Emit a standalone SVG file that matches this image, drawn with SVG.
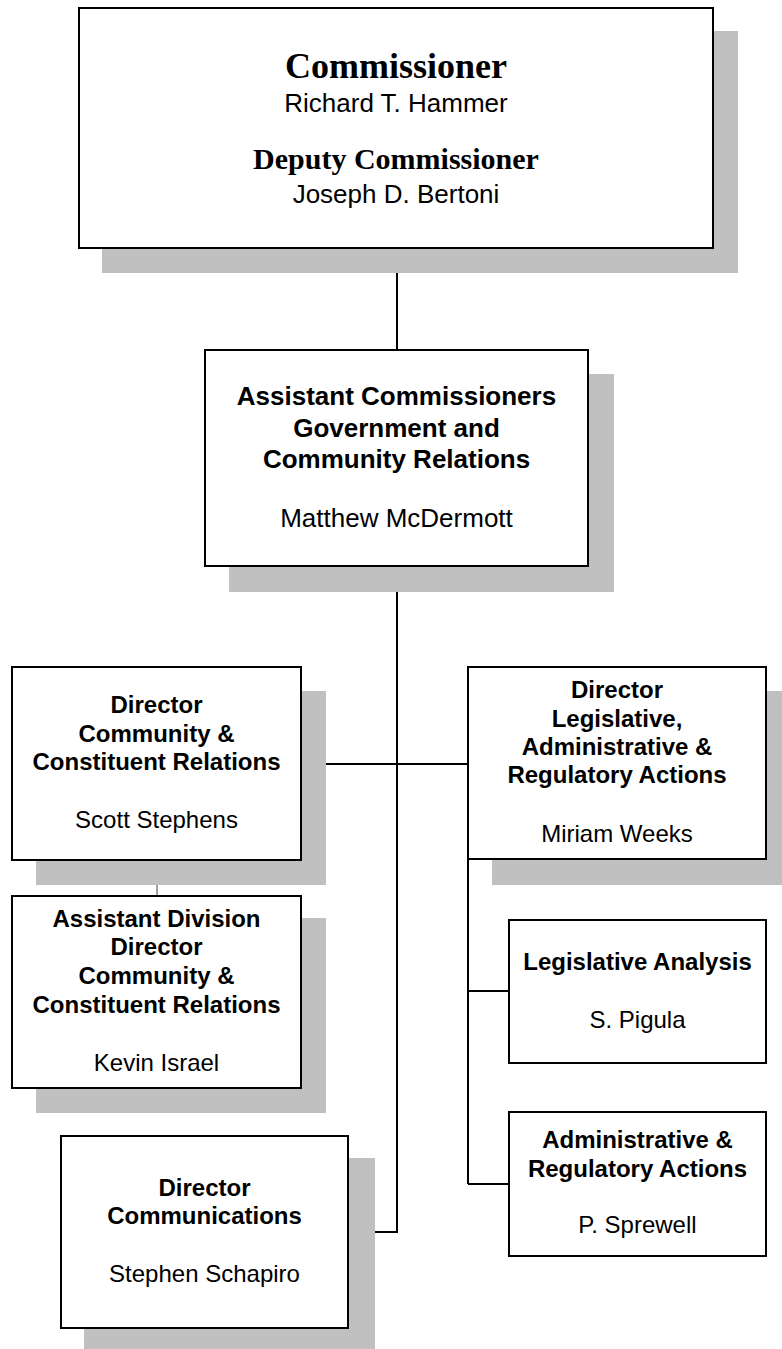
<svg xmlns="http://www.w3.org/2000/svg" width="782" height="1349" viewBox="0 0 782 1349">
<style>
.bg{fill:#ffffff}
.sh{fill:#c0c0c0}
.bx{fill:#ffffff;stroke:#000000;stroke-width:2}
.ln{fill:none;stroke:#000000;stroke-width:2}
.thin{fill:none;stroke:#444444;stroke-width:1}
.ts{font-family:"Liberation Serif","Times New Roman",serif;font-weight:bold;text-anchor:middle;fill:#000}
.b{font-family:"Liberation Sans",Arial,sans-serif;font-weight:bold;font-size:24px;text-anchor:middle;fill:#000}
.r{font-family:"Liberation Sans",Arial,sans-serif;font-size:24px;text-anchor:middle;fill:#000}
.big{font-size:26px}
</style>
<rect class="bg" x="0" y="0" width="782" height="1349"/>
<g id="connectors">
<line class="ln" x1="397" y1="248" x2="397" y2="350"/>
<polyline class="ln" points="397,566 397,1232 348,1232"/>
<line class="ln" x1="301" y1="764" x2="468" y2="764"/>
<line class="ln" x1="468" y1="764" x2="468" y2="1184"/>
<line class="ln" x1="468" y1="991" x2="509" y2="991"/>
<line class="ln" x1="468" y1="1184" x2="509" y2="1184"/>
<line class="thin" x1="157" y1="860" x2="157" y2="896"/>
</g>
<g id="commissioner">
<rect class="sh" x="102" y="31" width="636" height="242"/>
<rect class="bx" x="79" y="8" width="634" height="240"/>
<text class="ts" x="396" y="78" font-size="36">Commissioner</text>
<text class="r big" x="396" y="112">Richard T. Hammer</text>
<text class="ts" x="396" y="169" font-size="30">Deputy Commissioner</text>
<text class="r big" x="396" y="203">Joseph D. Bertoni</text>
</g>
<g id="assistant-commissioners">
<rect class="sh" x="229" y="374" width="385" height="218"/>
<rect class="bx" x="205" y="350" width="383" height="216"/>
<text class="b big" x="396.5" y="405">Assistant Commissioners</text>
<text class="b big" x="396.5" y="437">Government and</text>
<text class="b big" x="396.5" y="468">Community Relations</text>
<text class="r big" x="396.5" y="527">Matthew McDermott</text>
</g>
<g id="director-community">
<rect class="sh" x="36" y="691" width="290" height="194"/>
<rect class="bx" x="12" y="667" width="289" height="193"/>
<text class="b" x="156.5" y="713">Director</text>
<text class="b" x="156.5" y="742">Community &amp;</text>
<text class="b" x="156.5" y="770">Constituent Relations</text>
<text class="r" x="156.5" y="828">Scott Stephens</text>
</g>
<g id="director-legislative">
<rect class="sh" x="492" y="691" width="298" height="194"/>
<rect class="bx" x="468" y="667" width="298" height="192"/>
<text class="b" x="617" y="698">Director</text>
<text class="b" x="617" y="727">Legislative,</text>
<text class="b" x="617" y="755">Administrative &amp;</text>
<text class="b" x="617" y="783">Regulatory Actions</text>
<text class="r" x="617" y="842">Miriam Weeks</text>
</g>
<g id="assistant-division">
<rect class="sh" x="36" y="918" width="290" height="195"/>
<rect class="bx" x="12" y="896" width="289" height="192"/>
<text class="b" x="156.5" y="927">Assistant Division</text>
<text class="b" x="156.5" y="955">Director</text>
<text class="b" x="156.5" y="984">Community &amp;</text>
<text class="b" x="156.5" y="1013">Constituent Relations</text>
<text class="r" x="156.5" y="1071">Kevin Israel</text>
</g>
<g id="legislative-analysis">
<rect class="bx" x="509" y="920" width="257" height="143"/>
<text class="b" x="637.5" y="970">Legislative Analysis</text>
<text class="r" x="637.5" y="1028">S. Pigula</text>
</g>
<g id="administrative-regulatory">
<rect class="bx" x="509" y="1112" width="257" height="144"/>
<text class="b" x="637.5" y="1148">Administrative &amp;</text>
<text class="b" x="637.5" y="1177">Regulatory Actions</text>
<text class="r" x="637.5" y="1233">P. Sprewell</text>
</g>
<g id="director-communications">
<rect class="sh" x="84" y="1158" width="291" height="194"/>
<rect class="bx" x="61" y="1136" width="287" height="192"/>
<text class="b" x="204.5" y="1196">Director</text>
<text class="b" x="204.5" y="1224">Communications</text>
<text class="r" x="204.5" y="1282">Stephen Schapiro</text>
</g>
</svg>
